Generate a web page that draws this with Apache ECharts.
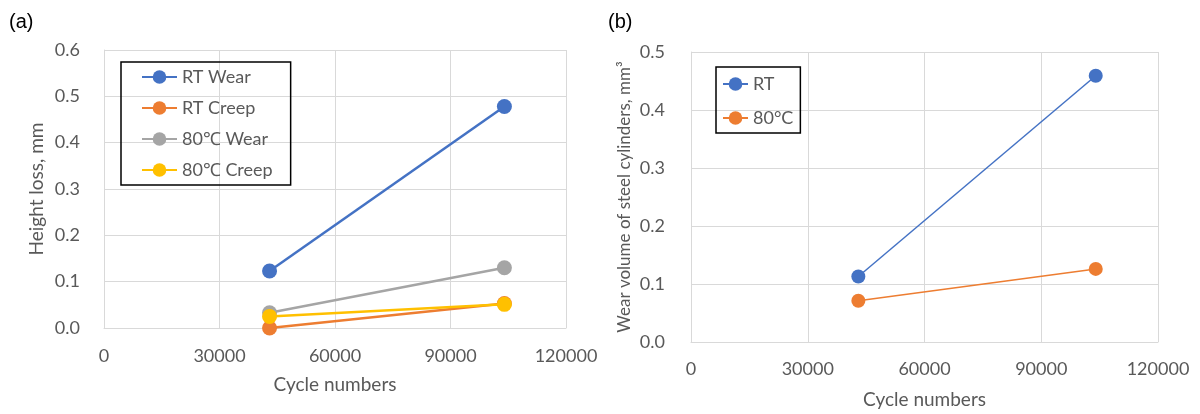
<!DOCTYPE html>
<html>
<head>
<meta charset="utf-8">
<script src="https://cdn.jsdelivr.net/npm/echarts@6/dist/echarts.min.js"></script>
<style>
  html, body { margin: 0; padding: 0; background: #fff; }
  #main { width: 1200px; height: 414px; }
</style>
</head>
<body>
<div id="main"></div>
<script>
// data
var cyclesA = [43000, 104000];
var rtWear = [0.123, 0.478];
var rtCreep = [0.0, 0.053];
var hotWear = [0.033, 0.130];
var hotCreep = [0.025, 0.051];

var cyclesB = [43000, 104000];
var rtVolume = [0.113, 0.459];
var hotVolume = [0.071, 0.126];

var xTicks = [0, 30000, 60000, 90000, 120000];

function pairs(xs, ys) {
	var out = [];
	for (var i = 0; i < xs.length; i++) {
		out.push([xs[i], ys[i]]);
	}
	return out;
}

var font = 'Lato, "Noto Sans", sans-serif';
var textColor = '#595959';
var gridColor = '#D9D9D9';

function xAxisOf(grid, nameGap, margin) {
	return {
		type: 'value', gridIndex: grid, min: xTicks[0], max: xTicks[xTicks.length - 1], interval: 30000,
		name: 'Cycle numbers', nameLocation: 'middle', nameGap: nameGap,
		nameTextStyle: { color: textColor, fontSize: 19, fontFamily: font },
		axisLine: { show: true, lineStyle: { color: gridColor } },
		axisTick: { show: false },
		axisLabel: { color: textColor, fontSize: 18, fontFamily: font, margin: margin,
			formatter: function (v) { return String(v); } },
		splitLine: { show: true, lineStyle: { color: gridColor } }
	};
}

function yAxisOf(grid, max, name, nameSize, nameGap, margin) {
	return {
		type: 'value', gridIndex: grid, min: 0, max: max, interval: 0.1,
		name: name, nameLocation: 'middle', nameGap: nameGap,
		nameTextStyle: { color: textColor, fontSize: nameSize, fontFamily: font },
		axisLine: { show: true, lineStyle: { color: gridColor } },
		axisTick: { show: false },
		axisLabel: { color: textColor, fontSize: 18, fontFamily: font, margin: margin,
			formatter: function (v) { return v.toFixed(1); } },
		splitLine: { show: true, lineStyle: { color: gridColor } }
	};
}

function lineOf(name, data, color, xi, width, size) {
	return {
		name: name, type: 'line', xAxisIndex: xi, yAxisIndex: xi,
		data: data, symbol: 'circle', symbolSize: size,
		lineStyle: { color: color, width: width },
		itemStyle: { color: color },
		emphasis: { disabled: true }
	};
}

var chart = echarts.init(document.getElementById('main'));
chart.setOption({
	animation: false,
	graphic: [
		{ type: 'text', left: 9, top: 12, style: { text: '(a)', font: '20px "Liberation Sans", Arial, sans-serif', fill: '#000' } },
		{ type: 'text', left: 608, top: 12, style: { text: '(b)', font: '20px "Liberation Sans", Arial, sans-serif', fill: '#000' } }
	],
	grid: [
		{ left: 104, top: 50, width: 462, height: 278 },
		{ left: 691, top: 52, width: 467, height: 294 }
	],
	legend: [
		{
			orient: 'vertical', left: 121, top: 62,
			data: ['RT Wear', 'RT Creep', '80℃ Wear', '80℃ Creep'],
			borderColor: '#000', borderWidth: 1.5, padding: [6, 18, 6, 20],
			itemWidth: 35, itemHeight: 17, itemGap: 13,
			textStyle: { color: textColor, fontSize: 18, fontFamily: font }
		},
		{
			orient: 'vertical', left: 716, top: 67,
			data: ['RT', '80°C'],
			borderColor: '#000', borderWidth: 1.5, padding: [8, 7, 6, 6],
			itemWidth: 25, itemHeight: 17, itemGap: 16,
			textStyle: { color: textColor, fontSize: 18, fontFamily: font }
		}
	],
	xAxis: [xAxisOf(0, 47, 19), xAxisOf(1, 48, 18)],
	yAxis: [
		yAxisOf(0, 0.6, 'Height loss, mm', 19, 58, 24),
		yAxisOf(1, 0.5, 'Wear volume of steel cylinders, mm³', 17, 58, 26)
	],
	series: [
		lineOf('RT Wear', pairs(cyclesA, rtWear), '#4472C4', 0, 2.5, 15),
		lineOf('RT Creep', pairs(cyclesA, rtCreep), '#ED7D31', 0, 2.5, 15),
		lineOf('80℃ Wear', pairs(cyclesA, hotWear), '#A5A5A5', 0, 2.5, 15),
		lineOf('80℃ Creep', pairs(cyclesA, hotCreep), '#FFC000', 0, 2.5, 15),
		lineOf('RT', pairs(cyclesB, rtVolume), '#4472C4', 1, 1.5, 14),
		lineOf('80°C', pairs(cyclesB, hotVolume), '#ED7D31', 1, 1.5, 14)
	]
});
</script>
</body>
</html>
